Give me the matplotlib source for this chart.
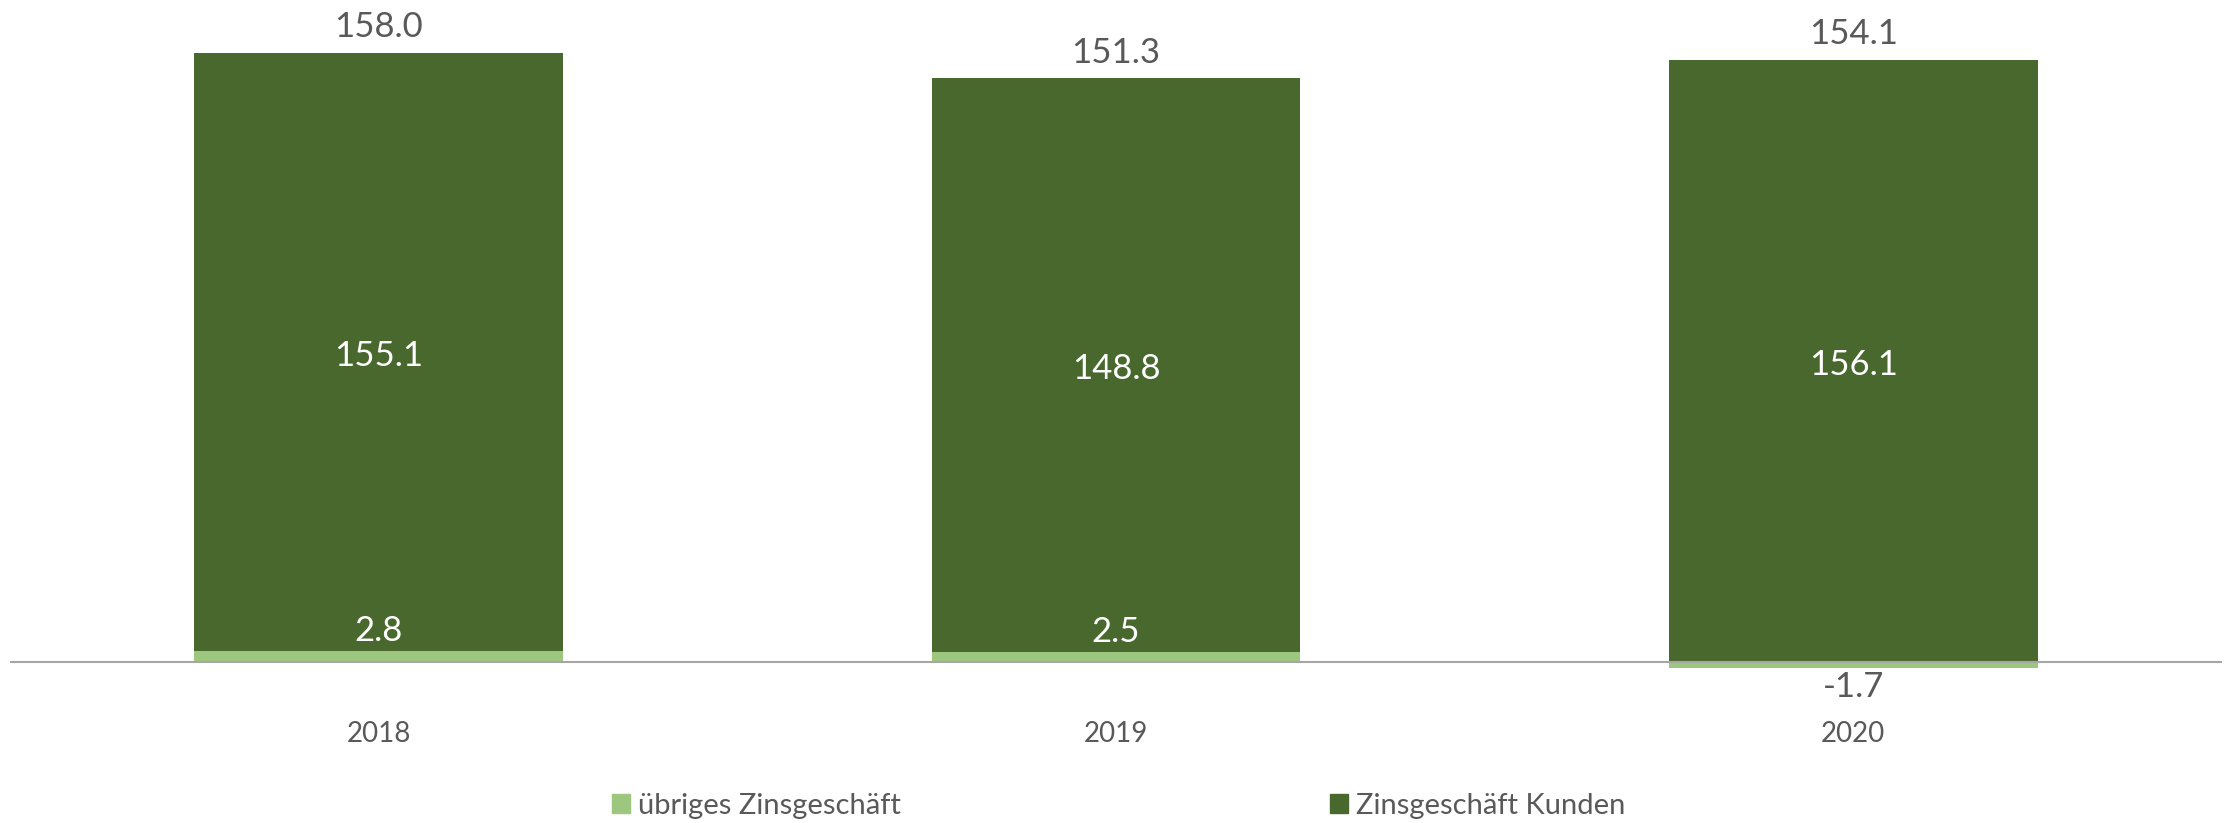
import matplotlib.pyplot as plt
from matplotlib.patches import Patch
import numpy as np

years = ["2018", "2019", "2020"]
uebriges = [2.8, 2.5, -1.7]
kunden = [155.1, 148.8, 156.1]
totals = [158.0, 151.3, 154.1]

light = "#9DC67F"
dark = "#48682E"
grey = "#595959"

plt.rcParams["font.family"] = ["Lato", "DejaVu Sans"]

W, H = 2233, 823
fig = plt.figure(figsize=(W / 100, H / 100), dpi=100)

# axes placed in pixels: zero line at y=661.5, 3.854 px per unit
px_per_unit = 3.854
y_top = 661.5 / px_per_unit
y_bot = -10
ax_h = (y_top - y_bot) * px_per_unit
ax = fig.add_axes([10 / W, 1 - (661.5 + 10 * px_per_unit) / H, 2212 / W, ax_h / H])

x = np.arange(len(years))
# light part at base (negative goes below), dark stacked from positive base
base_dark = [max(v, 0) for v in uebriges]
ax.bar(x, uebriges, width=0.5, color=light, zorder=2)
ax.bar(x, kunden, width=0.5, bottom=base_dark, color=dark, zorder=2)

ax.set_xlim(-0.5, 2.5)
ax.set_ylim(y_bot, y_top)
ax.axhline(0, color="#A6A6A6", lw=1.5, zorder=3)
for s in ax.spines.values():
    s.set_visible(False)
ax.set_yticks([])
ax.set_xticks([])

# labels
for i in range(len(years)):
    ax.text(x[i], base_dark[i] + kunden[i] / 2 - 1, f"{kunden[i]:.1f}", ha="center",
            va="center", color="white", fontsize=25, zorder=4)
    ax.annotate(f"{totals[i]:.1f}", (x[i], base_dark[i] + kunden[i]),
                xytext=(0, 7), textcoords="offset points", ha="center",
                va="bottom", color=grey, fontsize=25)
    if uebriges[i] >= 0:
        ax.annotate(f"{uebriges[i]:.1f}", (x[i], uebriges[i]), xytext=(0, 3),
                    textcoords="offset points", ha="center", va="bottom",
                    color="white", fontsize=25, zorder=4)
    else:
        ax.annotate(f"{uebriges[i]:.1f}", (x[i], uebriges[i]), xytext=(0, -2),
                    textcoords="offset points", ha="center", va="top",
                    color=grey, fontsize=25)
    # category labels
    fig.text((10 + (x[i] + 0.5) * 2212 / 3) / W, 1 - 734 / H, years[i],
             ha="center", va="center", color=grey, fontsize=20)

# legend entries
for lx, col, lab in [(612, light, "übriges Zinsgeschäft"), (1330, dark, "Zinsgeschäft Kunden")]:
    fig.legend(handles=[Patch(color=col, label=lab)], loc="center left",
               bbox_to_anchor=(lx / W, 1 - 806 / H), frameon=False, fontsize=21,
               labelcolor=grey, handlelength=0.6, handleheight=0.6,
               handletextpad=0.3, borderpad=0, borderaxespad=0)

fig.savefig("out.png", dpi=100)
